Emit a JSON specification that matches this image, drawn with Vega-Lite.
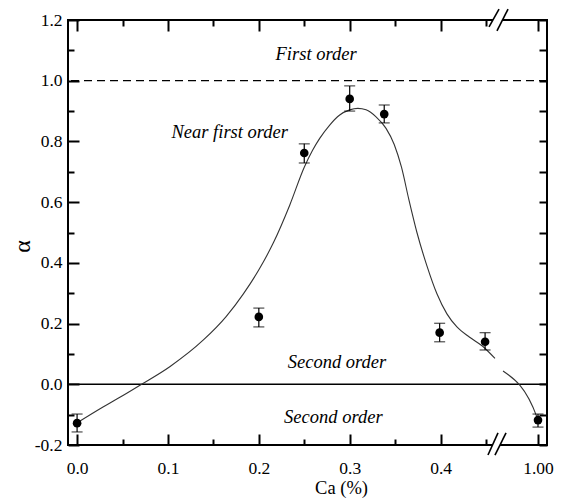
{
  "$schema": "https://vega.github.io/schema/vega-lite/v6.json",
  "width": 479,
  "height": 425,
  "autosize": "none",
  "padding": {"left": 68, "top": 20, "right": 14, "bottom": 56},
  "background": "white",
  "config": {
    "view": {"stroke": "black", "strokeWidth": 2},
    "axis": {
      "domain": false, "ticks": true, "tickColor": "#000000", "tickOpacity": 1, "tickWidth": 2, "zindex": 1,
      "labelFont": "Liberation Serif", "labelFontSize": 17.5, "labelColor": "black",
      "titleFont": "Liberation Serif", "titleColor": "black", "titleFontWeight": "normal", "grid": false
    },
    "text": {"font": "Liberation Serif"}
  },
  "datasets": {
    "points": [
      {"ca": 0.0, "alpha": -0.128, "lo": -0.157, "hi": -0.098},
      {"ca": 0.2, "alpha": 0.222, "lo": 0.189, "hi": 0.251},
      {"ca": 0.25, "alpha": 0.762, "lo": 0.729, "hi": 0.792},
      {"ca": 0.3, "alpha": 0.94, "lo": 0.9, "hi": 0.983},
      {"ca": 0.338, "alpha": 0.89, "lo": 0.861, "hi": 0.92},
      {"ca": 0.399, "alpha": 0.17, "lo": 0.14, "hi": 0.201},
      {"ca": 0.449, "alpha": 0.14, "lo": 0.113, "hi": 0.17},
      {"ca": 1.0, "alpha": -0.118, "lo": -0.141, "hi": -0.098}
    ],
    "curve": [
      {"ca": 0.0, "alpha": -0.127, "seg": "a"},
      {"ca": 0.029, "alpha": -0.074, "seg": "a"},
      {"ca": 0.05, "alpha": -0.038, "seg": "a"},
      {"ca": 0.071, "alpha": 0.0, "seg": "a"},
      {"ca": 0.102, "alpha": 0.058, "seg": "a"},
      {"ca": 0.139, "alpha": 0.146, "seg": "a"},
      {"ca": 0.164, "alpha": 0.223, "seg": "a"},
      {"ca": 0.183, "alpha": 0.298, "seg": "a"},
      {"ca": 0.201, "alpha": 0.382, "seg": "a"},
      {"ca": 0.216, "alpha": 0.466, "seg": "a"},
      {"ca": 0.234, "alpha": 0.59, "seg": "a"},
      {"ca": 0.25, "alpha": 0.715, "seg": "a"},
      {"ca": 0.259, "alpha": 0.77, "seg": "a"},
      {"ca": 0.267, "alpha": 0.81, "seg": "a"},
      {"ca": 0.278, "alpha": 0.854, "seg": "a"},
      {"ca": 0.289, "alpha": 0.887, "seg": "a"},
      {"ca": 0.3, "alpha": 0.904, "seg": "a"},
      {"ca": 0.309, "alpha": 0.909, "seg": "a"},
      {"ca": 0.318, "alpha": 0.904, "seg": "a"},
      {"ca": 0.329, "alpha": 0.881, "seg": "a"},
      {"ca": 0.34, "alpha": 0.843, "seg": "a"},
      {"ca": 0.349, "alpha": 0.79, "seg": "a"},
      {"ca": 0.357, "alpha": 0.715, "seg": "a"},
      {"ca": 0.365, "alpha": 0.61, "seg": "a"},
      {"ca": 0.374, "alpha": 0.5, "seg": "a"},
      {"ca": 0.385, "alpha": 0.39, "seg": "a"},
      {"ca": 0.396, "alpha": 0.298, "seg": "a"},
      {"ca": 0.407, "alpha": 0.232, "seg": "a"},
      {"ca": 0.418, "alpha": 0.189, "seg": "a"},
      {"ca": 0.432, "alpha": 0.155, "seg": "a"},
      {"ca": 0.446, "alpha": 0.126, "seg": "a"},
      {"ca": 0.545, "alpha": 0.085, "seg": "a"},
      {"ca": 0.63, "alpha": 0.044, "seg": "b"},
      {"ca": 0.989, "alpha": -0.108, "seg": "b"},
      {"ca": 1.0, "alpha": -0.118, "seg": "b"}
    ],
    "labels": [
      {"ca": 0.263, "alpha": 1.088, "text": "First order"},
      {"ca": 0.168, "alpha": 0.831, "text": "Near first order"},
      {"ca": 0.286, "alpha": 0.073, "text": "Second order"},
      {"ca": 0.282, "alpha": -0.108, "text": "Second order"}
    ],
    "gaps": [
      {"x1": 0.524, "x2": 0.619, "y": 1.2},
      {"x1": 0.519, "x2": 0.598, "y": -0.2}
    ],
    "slashes": [
      {"x1": 0.482, "x2": 0.588, "y1": 1.177, "y2": 1.236},
      {"x1": 0.566, "x2": 0.683, "y1": 1.164, "y2": 1.236},
      {"x1": 0.471, "x2": 0.577, "y1": -0.233, "y2": -0.16},
      {"x1": 0.545, "x2": 0.662, "y1": -0.233, "y2": -0.16}
    ]
  },
  "resolve": {"axis": {"x": "independent", "y": "independent"}},
  "layer": [
    {
      "data": {"values": [{"v": 0}]},
      "mark": {"type": "rule", "color": "black", "strokeWidth": 1.5},
      "encoding": {"y": {"field": "v", "type": "quantitative", "scale": {"domain": [-0.2, 1.2], "nice": false, "zero": false},
        "title": "α",
        "axis": {"orient": "left", "offset": -11, "tickSize": 11, "values": [-0.2, 0, 0.2, 0.4, 0.6, 0.8, 1.0, 1.2],
          "labelExpr": "replace(format(datum.value, '.1f'), '−', '-')",
          "labelPadding": 6, "labelFlush": false, "labelBound": false, "labelOverlap": false,
          "titleFontSize": 24, "titleX": -57, "titleY": 226, "titleAngle": -90, "titleAlign": "center", "titleBaseline": "middle"}}}
    },
    {
      "data": {"values": [{"v": 1}]},
      "mark": {"type": "rule", "color": "black", "strokeWidth": 1.3, "strokeDash": [8, 5]},
      "encoding": {"y": {"field": "v", "type": "quantitative", "scale": {"domain": [-0.2, 1.2], "nice": false, "zero": false},
        "axis": {"orient": "left", "offset": -6, "tickSize": 6, "values": [-0.1, 0.1, 0.3, 0.5, 0.7, 0.9, 1.1], "labels": false, "title": null}}}
    },
    {
      "data": {"name": "curve"},
      "mark": {"type": "line", "color": "#333333", "strokeWidth": 1.1, "interpolate": "monotone"},
      "encoding": {
        "x": {"field": "ca", "type": "quantitative",
          "scale": {"domain": [-0.01, 0.45, 1.0, 1.01], "range": [0, 418, 470, 479], "nice": false, "zero": false},
          "title": "Ca (%)",
          "axis": {"orient": "bottom", "offset": -11, "tickSize": 11, "values": [0, 0.1, 0.2, 0.3, 0.4, 1.0],
            "labelExpr": "datum.value == 1 ? '1.00' : format(datum.value, '.1f')",
            "labelPadding": 14, "labelFlush": false, "labelBound": false, "labelOverlap": false,
            "titleFontSize": 18.5, "titleX": 273, "titleY": 53, "titleAnchor": null, "titleAlign": "center", "titleBaseline": "middle"}},
        "y": {"field": "alpha", "type": "quantitative",
          "scale": {"domain": [-0.2, 1.2], "nice": false, "zero": false},
          "axis": {"orient": "right", "offset": -8, "tickSize": 8, "values": [-0.2, -0.1, 0, 0.1, 0.2, 0.3, 0.4, 0.5, 0.6, 0.7, 0.8, 0.9, 1.0, 1.1, 1.2], "labels": false, "title": null}},
        "detail": {"field": "seg"}
      }
    },
    {
      "data": {"name": "points"},
      "mark": {"type": "rule", "color": "black", "strokeWidth": 1.2},
      "encoding": {
        "x": {"field": "ca", "type": "quantitative", "scale": {"domain": [-0.01, 0.45, 1.0, 1.01], "range": [0, 418, 470, 479], "nice": false, "zero": false},
          "axis": {"orient": "bottom", "offset": -6, "tickSize": 6, "values": [0.05, 0.15, 0.25, 0.35, 0.45], "labels": false, "title": null}},
        "y": {"field": "lo", "type": "quantitative", "scale": {"domain": [-0.2, 1.2], "nice": false, "zero": false}, "axis": null},
        "y2": {"field": "hi"}
      }
    },
    {
      "data": {"name": "points"},
      "mark": {"type": "tick", "orient": "horizontal", "color": "black", "thickness": 1.2, "size": 11},
      "encoding": {
        "x": {"field": "ca", "type": "quantitative", "scale": {"domain": [-0.01, 0.45, 1.0, 1.01], "range": [0, 418, 470, 479], "nice": false, "zero": false},
          "axis": {"orient": "top", "offset": -11, "tickSize": 11, "values": [0, 0.1, 0.2, 0.3, 0.4, 1.0], "labels": false, "title": null}},
        "y": {"field": "lo", "type": "quantitative", "scale": {"domain": [-0.2, 1.2], "nice": false, "zero": false}, "axis": null}
      }
    },
    {
      "data": {"name": "points"},
      "mark": {"type": "tick", "orient": "horizontal", "color": "black", "thickness": 1.2, "size": 11},
      "encoding": {
        "x": {"field": "ca", "type": "quantitative", "scale": {"domain": [-0.01, 0.45, 1.0, 1.01], "range": [0, 418, 470, 479], "nice": false, "zero": false},
          "axis": {"orient": "top", "offset": -6, "tickSize": 6, "values": [0.05, 0.15, 0.25, 0.35, 0.45], "labels": false, "title": null}},
        "y": {"field": "hi", "type": "quantitative", "scale": {"domain": [-0.2, 1.2], "nice": false, "zero": false}, "axis": null}
      }
    },
    {
      "data": {"name": "points"},
      "mark": {"type": "circle", "color": "black", "opacity": 1, "size": 75},
      "encoding": {
        "x": {"field": "ca", "type": "quantitative", "scale": {"domain": [-0.01, 0.45, 1.0, 1.01], "range": [0, 418, 470, 479], "nice": false, "zero": false}, "axis": null},
        "y": {"field": "alpha", "type": "quantitative", "scale": {"domain": [-0.2, 1.2], "nice": false, "zero": false}, "axis": null}
      }
    },
    {
      "data": {"name": "labels"},
      "mark": {"type": "text", "font": "Liberation Serif", "fontStyle": "italic", "fontSize": 18.5, "color": "black", "align": "center", "baseline": "middle"},
      "encoding": {
        "x": {"field": "ca", "type": "quantitative", "scale": {"domain": [-0.01, 0.45, 1.0, 1.01], "range": [0, 418, 470, 479], "nice": false, "zero": false}, "axis": null},
        "y": {"field": "alpha", "type": "quantitative", "scale": {"domain": [-0.2, 1.2], "nice": false, "zero": false}, "axis": null},
        "text": {"field": "text"}
      }
    },
    {
      "data": {"name": "gaps"},
      "mark": {"type": "rule", "color": "white", "strokeWidth": 5},
      "encoding": {
        "x": {"field": "x1", "type": "quantitative", "scale": {"domain": [-0.01, 0.45, 1.0, 1.01], "range": [0, 418, 470, 479], "nice": false, "zero": false}, "axis": null},
        "x2": {"field": "x2"},
        "y": {"field": "y", "type": "quantitative", "scale": {"domain": [-0.2, 1.2], "nice": false, "zero": false}, "axis": null}
      }
    },
    {
      "data": {"name": "slashes"},
      "mark": {"type": "rule", "color": "black", "strokeWidth": 1.6},
      "encoding": {
        "x": {"field": "x1", "type": "quantitative", "scale": {"domain": [-0.01, 0.45, 1.0, 1.01], "range": [0, 418, 470, 479], "nice": false, "zero": false}, "axis": null},
        "x2": {"field": "x2"},
        "y": {"field": "y1", "type": "quantitative", "scale": {"domain": [-0.2, 1.2], "nice": false, "zero": false}, "axis": null},
        "y2": {"field": "y2"}
      }
    }
  ]
}
